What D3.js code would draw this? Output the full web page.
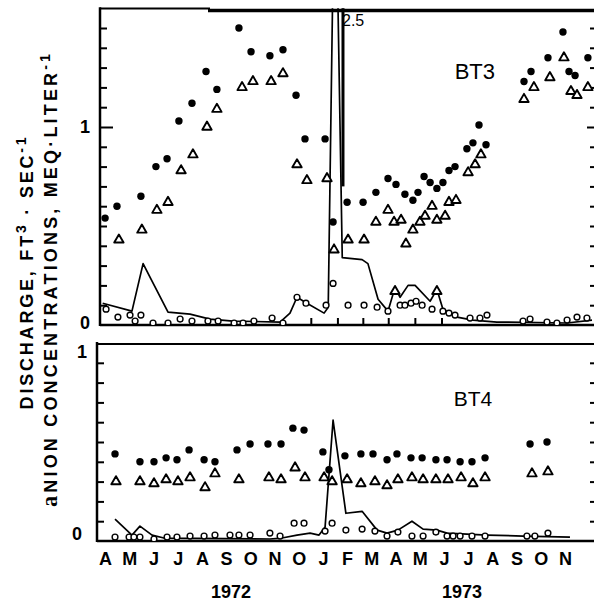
<!DOCTYPE html>
<html><head><meta charset="utf-8">
<script src="https://cdn.jsdelivr.net/npm/d3@7/dist/d3.min.js"></script>
<style>html,body{margin:0;padding:0;background:#fff;}svg{display:block;}</style>
</head><body>
<svg id="chart" width="594" height="603"></svg>
<script>
// ---------- DATA (t = months since 1 April 1972, v = value) ----------
const monthLabels = ["A","M","J","J","A","S","O","N","O","J","F","M","A","M","J","J","A","S","O","N"];
const yearLabels = ["1972", "1973"];
const yearLabelMonth = [5.7, 15.25];
const panelNames = ["BT3", "BT4"];
const topTicks = [0.1,0.2,0.3,0.4,0.5,0.6,0.7,0.8,0.9,1.0,1.1,1.2,1.3,1.4,1.5];
const botTicks = [0.1,0.2,0.3,0.4,0.5,0.6,0.7,0.8,0.9];
const topTickLabels = [["1",1],["0",0]];
const botTickLabels = [["1",1],["0",0]];
const bt3MonthTicks = [9, 10.1, 11.15, 12.2, 13.3, 14.4];
const bt3PeakLabel = ["2.5"];
const bt3PeakBreak = [10.33, 0.70];

const bt3Dots = [[0.50,0.54],[0.99,0.60],[1.98,0.65],[2.60,0.80],[3.06,0.84],[3.55,1.03],[4.09,1.12],[4.67,1.28],[5.12,1.19],[6.03,1.50],[6.53,1.38],[7.31,1.36],[7.85,1.39],[8.39,1.16],[8.76,0.94],[9.59,0.94],[9.92,0.52],[10.50,0.62],[11.16,0.62],[11.69,0.67],[12.19,0.74],[12.52,0.71],[12.89,0.66],[13.22,0.63],[13.43,0.67],[13.68,0.75],[13.93,0.72],[14.21,0.69],[14.46,0.72],[14.71,0.78],[14.96,0.80],[15.45,0.89],[15.70,0.92],[15.95,1.01],[16.24,0.91],[17.81,1.23],[18.10,1.28],[18.80,1.35],[19.42,1.48],[19.67,1.28],[19.92,1.26],[20.45,1.35]];
const bt3Tris = [[1.07,0.43],[2.02,0.48],[2.64,0.58],[3.10,0.62],[3.64,0.78],[4.13,0.86],[4.71,1.00],[5.12,1.09],[6.16,1.20],[6.61,1.23],[7.36,1.23],[7.85,1.27],[8.43,0.81],[8.84,0.73],[9.67,0.74],[9.96,0.38],[10.54,0.43],[11.20,0.43],[11.69,0.52],[12.19,0.58],[12.44,0.52],[12.48,0.17],[12.73,0.53],[12.93,0.41],[13.22,0.48],[13.51,0.52],[13.72,0.55],[14.01,0.60],[14.21,0.53],[14.21,0.17],[14.55,0.55],[14.71,0.62],[15.00,0.63],[15.50,0.77],[15.79,0.81],[16.03,0.86],[17.81,1.14],[18.22,1.20],[18.88,1.25],[19.46,1.35],[19.75,1.18],[20.00,1.16],[20.45,1.20]];
const bt3Circles = [[0.54,0.08],[1.03,0.04],[1.53,0.05],[1.74,0.02],[1.98,0.05],[2.48,0.01],[3.10,0.01],[3.60,0.03],[4.09,0.02],[4.75,0.02],[5.17,0.02],[5.83,0.01],[6.20,0.01],[6.65,0.02],[7.40,0.035],[7.85,0.01],[8.43,0.14],[8.80,0.11],[9.63,0.10],[9.92,0.21],[10.54,0.10],[11.20,0.10],[11.74,0.09],[12.19,0.07],[12.69,0.10],[12.89,0.10],[13.14,0.11],[13.35,0.12],[13.60,0.10],[14.01,0.08],[14.46,0.07],[14.71,0.06],[14.96,0.05],[15.58,0.035],[15.99,0.035],[16.28,0.05],[17.77,0.02],[18.06,0.03],[18.76,0.015],[19.17,0.01],[19.59,0.025],[20.00,0.04],[20.41,0.035]];
const bt3Discharge = [[0.40,0.11],[1.61,0.07],[2.07,0.31],[2.36,0.24],[3.10,0.065],[4.01,0.055],[4.83,0.03],[5.79,0.02],[7.73,0.015],[8.14,0.06],[8.43,0.14],[8.84,0.11],[9.55,0.06],[9.72,0.09],[10.0,2.5],[10.30,0.34],[11.12,0.33],[11.36,0.31],[11.78,0.13],[12.19,0.07],[12.48,0.19],[12.69,0.14],[13.02,0.20],[13.31,0.20],[13.93,0.12],[14.21,0.18],[14.46,0.08],[15.04,0.04],[15.70,0.025],[16.69,0.015],[19.59,0.01],[20.62,0.025]];

const bt4Dots = [[0.91,0.44],[1.94,0.40],[2.52,0.40],[3.02,0.42],[3.47,0.41],[3.97,0.46],[4.59,0.41],[5.04,0.40],[5.95,0.46],[6.49,0.49],[7.23,0.49],[7.77,0.49],[8.26,0.57],[8.72,0.56],[9.50,0.45],[9.75,0.36],[10.41,0.43],[11.07,0.44],[11.57,0.44],[12.15,0.41],[12.56,0.44],[13.14,0.42],[13.60,0.42],[14.17,0.41],[14.63,0.41],[15.17,0.40],[15.66,0.40],[16.20,0.42],[18.06,0.49],[18.76,0.50]];
const bt4Tris = [[0.95,0.30],[1.94,0.30],[2.52,0.29],[3.02,0.31],[3.51,0.30],[4.01,0.32],[4.63,0.27],[5.04,0.34],[6.03,0.31],[7.27,0.32],[7.77,0.31],[8.35,0.37],[8.76,0.32],[9.55,0.32],[9.88,0.30],[10.50,0.31],[11.07,0.29],[11.65,0.30],[12.15,0.28],[12.60,0.31],[13.18,0.32],[13.64,0.31],[14.17,0.31],[14.67,0.31],[15.21,0.32],[15.70,0.29],[16.20,0.32],[18.14,0.34],[18.80,0.35]];
const bt4Circles = [[0.91,0.02],[1.49,0.02],[1.69,0.02],[1.94,0.02],[2.52,0.01],[3.06,0.02],[3.47,0.02],[4.01,0.025],[4.59,0.025],[5.04,0.03],[5.66,0.03],[6.03,0.03],[6.49,0.03],[7.31,0.04],[7.73,0.025],[8.31,0.09],[8.72,0.09],[9.59,0.05],[9.88,0.09],[10.45,0.055],[11.12,0.06],[11.65,0.05],[12.15,0.025],[12.60,0.045],[13.18,0.025],[13.64,0.025],[14.17,0.045],[14.63,0.025],[14.88,0.025],[15.17,0.025],[15.66,0.025],[16.20,0.025],[17.93,0.025],[18.26,0.025],[18.80,0.04]];
const bt4Discharge = [[0.91,0.11],[1.61,0.03],[1.94,0.075],[2.44,0.03],[2.93,0.015],[7.31,0.01],[7.81,0.015],[8.43,0.03],[8.97,0.04],[9.34,0.03],[9.59,0.07],[9.92,0.61],[10.45,0.14],[11.12,0.15],[11.74,0.055],[12.15,0.04],[12.60,0.055],[13.18,0.10],[13.64,0.06],[14.21,0.055],[14.63,0.04],[16.28,0.03],[17.77,0.025],[19.71,0.02]];

const titleLine1 = [["DISCHARGE, FT",0],["3",1],[" · SEC",0],["-1",1]];
const titleLine2 = [["a",2],["NION CONCENTRATIONS, MEQ·LITER",0],["-1",1]];

// ---------- DRAWING ----------
const svg = d3.select("#chart");
const FONT = "'Liberation Sans', Arial, Helvetica, sans-serif";
const W = 594;
const x = d3.scaleLinear().domain([0, 20]).range([93, 577]);
const yTop = d3.scaleLinear().domain([0, 1.6]).range([325, 8.2]);
const yBot = d3.scaleLinear().domain([0, 1]).range([541, 343]);
const rightX = 597;

const panels = [
  {name: panelNames[0], y: yTop, left: 100, ticks: topTicks, labels: topTickLabels, labelX: 85, labelDy: [6, 4],
   dots: bt3Dots, tris: bt3Tris, circ: bt3Circles, line: bt3Discharge, nameT: 15.78, nameV: 1.24, nameSize: 22},
  {name: panelNames[1], y: yBot, left: 97, ticks: botTicks, labels: botTickLabels, labelX: [82, 77], labelDy: [15, -1],
   dots: bt4Dots, tris: bt4Tris, circ: bt4Circles, line: bt4Discharge, nameT: 15.7, nameV: 0.68, nameSize: 21}
];

const defs = svg.append("defs");
panels.forEach((p, i) => {
  const [y0, y1] = p.y.range();
  defs.append("clipPath").attr("id", "clip" + i).append("rect")
    .attr("x", p.left).attr("y", y1).attr("width", rightX - p.left).attr("height", y0 - y1);

  const g = svg.append("g");
  const la = d3.axisRight(p.y).tickValues(p.ticks).tickSize(7).tickFormat("").tickSizeOuter(0);
  const lg = g.append("g").attr("transform", `translate(${p.left},0)`).call(la);
  lg.select(".domain").remove();
  lg.selectAll(".tick line").attr("stroke", "#000").attr("stroke-width", 2)
    .attr("x2", d => Math.abs(d - 1) < 1e-9 ? 13 : 7);
  const ra = d3.axisLeft(p.y).tickValues(p.ticks).tickSize(7).tickFormat("").tickSizeOuter(0);
  const rg = g.append("g").attr("transform", `translate(${rightX},0)`).call(ra);
  rg.select(".domain").remove();
  rg.selectAll(".tick line").attr("stroke", "#000").attr("stroke-width", 2)
    .attr("x2", d => Math.abs(d - 1) < 1e-9 ? -10 : -7);

  g.append("line").attr("x1", p.left).attr("x2", p.left).attr("y1", y1 - 1).attr("y2", y0 + 1)
    .attr("stroke", "#000").attr("stroke-width", 2.5);
  g.append("line").attr("x1", p.left).attr("x2", W).attr("y1", y0).attr("y2", y0)
    .attr("stroke", "#000").attr("stroke-width", 2.6);
  if (i === 0) {
    g.append("line").attr("x1", p.left).attr("x2", 210).attr("y1", y1 + 0.3).attr("y2", y1 + 0.3)
      .attr("stroke", "#000").attr("stroke-width", 1.8);
    g.append("line").attr("x1", 208).attr("x2", W).attr("y1", y1 + 2.3).attr("y2", y1 + 2.3)
      .attr("stroke", "#000").attr("stroke-width", 3.4);
  } else {
    g.append("line").attr("x1", p.left).attr("x2", W).attr("y1", y1 + 1).attr("y2", y1 + 1)
      .attr("stroke", "#000").attr("stroke-width", 2.2);
  }

  p.labels.forEach(([txt, v], k) => {
    g.append("text").attr("x", Array.isArray(p.labelX) ? p.labelX[k] : p.labelX)
      .attr("y", p.y(v) + p.labelDy[k]).attr("text-anchor", "middle")
      .attr("font-family", FONT).attr("font-weight", "bold").attr("font-size", 18).text(txt);
  });

  g.append("text").attr("x", x(p.nameT)).attr("y", p.y(p.nameV)).attr("text-anchor", "middle")
    .attr("font-family", FONT).attr("font-size", p.nameSize).text(p.name);

  const data = g.append("g").attr("clip-path", `url(#clip${i})`);
  const lineGen = d3.line().x(d => x(d[0])).y(d => p.y(d[1]));
  data.append("path").datum(p.line).attr("d", lineGen)
    .attr("fill", "none").attr("stroke", "#000").attr("stroke-width", 1.7).attr("stroke-linejoin", "round");

  data.selectAll(".circ").data(p.circ).join("circle").attr("class", "circ")
    .attr("cx", d => x(d[0])).attr("cy", d => p.y(d[1])).attr("r", 2.9)
    .attr("fill", "#fff").attr("stroke", "#000").attr("stroke-width", 1.4);
  const tri = d3.symbol().type(d3.symbolTriangle).size(38);
  data.selectAll(".tri").data(p.tris).join("path").attr("class", "tri")
    .attr("transform", d => `translate(${x(d[0])},${p.y(d[1])})`).attr("d", tri)
    .attr("fill", "#fff").attr("stroke", "#000").attr("stroke-width", 1.9).attr("stroke-linejoin", "round");
  data.selectAll(".dot").data(p.dots).join("circle").attr("class", "dot")
    .attr("cx", d => x(d[0])).attr("cy", d => p.y(d[1])).attr("r", 3.7).attr("fill", "#000");
});

const mt = d3.axisTop(x).tickValues(bt3MonthTicks).tickSize(7).tickFormat("").tickSizeOuter(0);
const mtg = svg.append("g").attr("transform", `translate(0,${yTop(0)})`).call(mt);
mtg.select(".domain").remove();
mtg.selectAll(".tick line").attr("stroke", "#000").attr("stroke-width", 2);
svg.append("line").attr("x1", x(bt3PeakBreak[0])).attr("x2", x(bt3PeakBreak[0]))
  .attr("y1", yTop(1.6)).attr("y2", yTop(bt3PeakBreak[1])).attr("stroke", "#000").attr("stroke-width", 3);
svg.append("text").attr("x", x(bt3PeakBreak[0]) - 1).attr("y", yTop(1.51))
  .attr("font-family", FONT).attr("font-size", 16).text(bt3PeakLabel[0]);

const ma = d3.axisBottom(x).tickValues(monthLabels.map((_, k) => k + 0.5))
  .tickFormat((_, k) => monthLabels[k]).tickSize(0).tickPadding(11);
const mag = svg.append("g").attr("transform", `translate(0,${yBot(0)})`).call(ma);
mag.select(".domain").remove();
mag.selectAll("text").attr("font-family", FONT).attr("font-weight", "bold").attr("font-size", 18).attr("fill", "#000");

yearLabels.forEach((yl, k) => {
  svg.append("text").attr("x", x(yearLabelMonth[k])).attr("y", 598).attr("text-anchor", "middle")
    .attr("font-family", FONT).attr("font-weight", "bold").attr("font-size", 18).text(yl);
});

function addTitle(parts, bx, cy, target, fs) {
  const t = svg.append("text").attr("transform", `translate(${bx},${cy}) rotate(-90)`)
    .attr("text-anchor", "middle").attr("font-family", FONT).attr("font-weight", "bold")
    .attr("font-size", fs).attr("fill", "#000");
  let shift = 0;
  parts.forEach(([s, kind]) => {
    const want = kind === 1 ? -7 : 0;
    const ts = t.append("tspan").text(s).attr("dy", want - shift);
    shift = want;
    if (kind === 1) ts.attr("font-size", fs * 0.78);
    if (kind === 2) ts.attr("font-family", "'Liberation Serif', 'DejaVu Serif', serif").attr("font-size", fs * 1.25);
  });
  const nat = t.node().getComputedTextLength();
  const n = parts.reduce((a, p) => a + p[0].length, 0);
  t.attr("letter-spacing", Math.max(0, (target - nat) / (n - 1)));
}
addTitle(titleLine1, 33, 272, 272, 18);
addTitle(titleLine2, 57, 279, 453, 18);
</script>
</body></html>
